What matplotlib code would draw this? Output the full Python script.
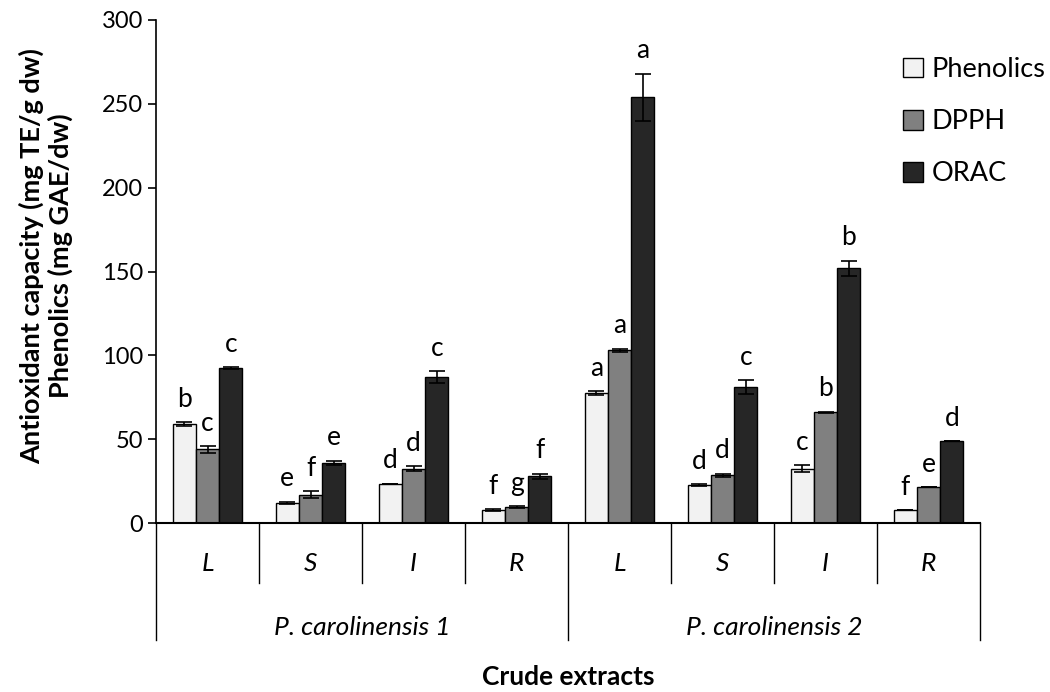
import matplotlib.pyplot as plt
import numpy as np

plt.rcParams['font.family'] = ['Lato', 'DejaVu Sans']

# data
groups = ['P. carolinensis 1', 'P. carolinensis 2']
parts = ['L', 'S', 'I', 'R']
series = ['Phenolics', 'DPPH', 'ORAC']

phenolics = [59, 12, 23.5, 7.5, 77.5, 22.5, 32.5, 7.5]
phenolics_err = [1, 0.7, 0, 0.6, 1.2, 0.7, 2, 0]
dpph = [44, 17, 32.5, 9.5, 103, 28.5, 66, 21.5]
dpph_err = [2, 2, 1.5, 0.7, 1, 1, 0.5, 0]
orac = [92.5, 36, 87, 28, 254, 81, 152, 49]
orac_err = [0.5, 1.2, 3.5, 1.5, 14, 4, 4.5, 0]

phenolics_letters = ['b', 'e', 'd', 'f', 'a', 'd', 'c', 'f']
dpph_letters = ['c', 'f', 'd', 'g', 'a', 'd', 'b', 'e']
orac_letters = ['c', 'e', 'c', 'f', 'a', 'c', 'b', 'd']

colors = ['#f2f2f2', '#808080', '#262626']

fig = plt.figure(figsize=(10.5, 6.92), dpi=100)
ax = fig.add_axes([0.1486, 0.2442, 0.7848, 0.7269])

n = len(groups) * len(parts)
x = np.arange(n) + 0.5
w = 0.226

values = [phenolics, dpph, orac]
errors = [phenolics_err, dpph_err, orac_err]
letters = [phenolics_letters, dpph_letters, orac_letters]

handles = []
for k in range(3):
    xs = x + (k - 1) * w
    b = ax.bar(xs, values[k], width=w, color=colors[k], edgecolor='black',
               linewidth=1.0, label=series[k], zorder=2)
    handles.append(b)
    ax.errorbar(xs, values[k], yerr=errors[k], fmt='none', ecolor='black',
                elinewidth=1.2, capsize=6, capthick=1.2, zorder=3)
    for xi, v, e, t in zip(xs, values[k], errors[k], letters[k]):
        ax.annotate(t, (xi, v + e), xytext=(0, 11), textcoords='offset points',
                    ha='center', va='baseline', fontsize=19)

ax.set_xlim(0, n)
ax.set_ylim(0, 300)
ax.set_yticks(np.arange(0, 301, 50))
ax.tick_params(axis='y', labelsize=17, length=6, width=1.2, direction='out')
ax.set_xticks([])
for s in ['top', 'right']:
    ax.spines[s].set_visible(False)
ax.spines['left'].set_linewidth(1.2)
ax.spines['bottom'].set_linewidth(1.5)

# category separators and labels below the axis
trans = ax.get_xaxis_transform()
for i in range(n + 1):
    long = i % len(parts) == 0
    ax.plot([i, i], [0, -0.233 if long else -0.119], transform=trans,
            color='black', lw=1.0, clip_on=False)
for i in range(n):
    ax.text(i + 0.5, -0.08, parts[i % len(parts)], transform=trans,
            ha='center', va='center', fontsize=19, style='italic')
for g, name in enumerate(groups):
    ax.text(g * len(parts) + len(parts) / 2, -0.207, name, transform=trans,
            ha='center', va='center', fontsize=19, style='italic')

ax.text(0.5, -0.306, 'Crude extracts', transform=ax.transAxes, ha='center',
        va='center', fontsize=19, fontweight='bold')

fig.text(46 / 1050, 1 - 256 / 692,
         'Antioxidant capacity (mg TE/g dw)\nPhenolics (mg GAE/dw)',
         rotation=90, ha='center', va='center', fontsize=19.5,
         fontweight='bold', multialignment='center', linespacing=1.15)

fig.legend(handles=handles, loc='upper left', bbox_to_anchor=(903 / 1050, 1 - 57 / 692),
           frameon=False, fontsize=19.5, handlelength=0.75, handleheight=0.75,
           handletextpad=0.3, labelspacing=1.0, borderpad=0, borderaxespad=0)

fig.savefig('out.png', dpi=100)
